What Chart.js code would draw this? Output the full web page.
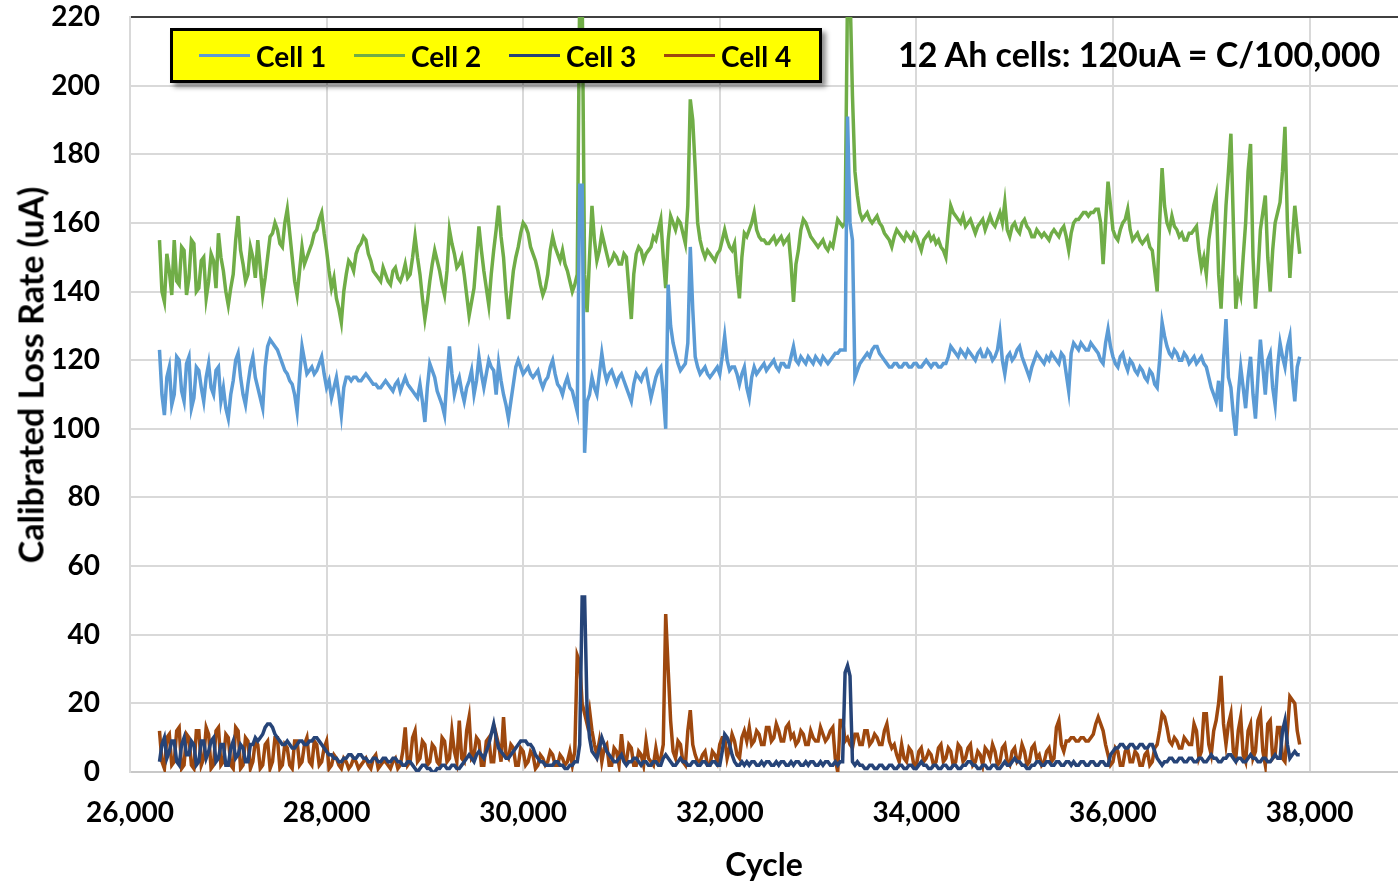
<!DOCTYPE html>
<html>
<head>
<meta charset="utf-8">
<title>Calibrated Loss Rate</title>
<script src="https://cdn.jsdelivr.net/npm/chart.js@4.4.1/dist/chart.umd.min.js"></script>
<style>
  body { margin: 0; background: #fff; }
  #wrap { position: relative; width: 1398px; height: 882px; }
  #legend {
    position: absolute; left: 170px; top: 28px; width: 652px; height: 55px;
    box-sizing: border-box; background: #ffff00; border: 3px solid #000;
    box-shadow: 4px 4px 5px rgba(0, 0, 0, 0.45);
    display: flex; align-items: center; padding-left: 26px;
    font: bold 28px Lato, sans-serif; color: #000;
  }
  #legend .item { display: flex; align-items: center; width: 157.7px; }
  #legend .swatch { display: inline-block; width: 51px; height: 3px; margin-right: 6px; }
  #note {
    position: absolute; left: 898px; top: 33px;
    font: bold 34px Lato, sans-serif; color: #000; white-space: nowrap;
  }
  #ytitle {
    position: absolute; left: 30px; top: 375px;
    transform: translate(-50%, -50%) rotate(-90deg);
    font: bold 34px Lato, sans-serif; color: #000; white-space: nowrap;
  }
</style>
</head>
<body>
<div id="wrap">
  <canvas id="lossChart" width="1398" height="882"></canvas>
  <div id="legend"></div>
  <div id="note">12 Ah cells: 120uA = C/100,000</div>
  <div id="ytitle">Calibrated Loss Rate (uA)</div>
</div>
<script>
// cycle number of each sample (one row = 500 cycles)
const cycles = [
  26300, 26325, 26350, 26375, 26400, 26425, 26450, 26475, 26500, 26525, 26550, 26575, 26600, 26625, 26650, 26675, 26700, 26725, 26750, 26775,
  26800, 26825, 26850, 26875, 26900, 26925, 26950, 26975, 27000, 27025, 27050, 27075, 27100, 27125, 27150, 27175, 27200, 27225, 27250, 27275,
  27300, 27325, 27350, 27375, 27400, 27425, 27450, 27475, 27500, 27525, 27550, 27575, 27600, 27625, 27650, 27675, 27700, 27725, 27750, 27775,
  27800, 27825, 27850, 27875, 27900, 27925, 27950, 27975, 28000, 28025, 28050, 28075, 28100, 28125, 28150, 28175, 28200, 28225, 28250, 28275,
  28300, 28325, 28350, 28375, 28400, 28425, 28450, 28475, 28500, 28525, 28550, 28575, 28600, 28625, 28650, 28675, 28700, 28725, 28750, 28775,
  28800, 28825, 28850, 28875, 28900, 28925, 28950, 28975, 29000, 29025, 29050, 29075, 29100, 29125, 29150, 29175, 29200, 29225, 29250, 29275,
  29300, 29325, 29350, 29375, 29400, 29425, 29450, 29475, 29500, 29525, 29550, 29575, 29600, 29625, 29650, 29675, 29700, 29725, 29750, 29775,
  29800, 29825, 29850, 29875, 29900, 29925, 29950, 29975, 30000, 30025, 30050, 30075, 30100, 30125, 30150, 30175, 30200, 30225, 30250, 30275,
  30300, 30325, 30350, 30375, 30400, 30425, 30450, 30475, 30500, 30525, 30550, 30575, 30600, 30625, 30650, 30675, 30700, 30725, 30750, 30775,
  30800, 30825, 30850, 30875, 30900, 30925, 30950, 30975, 31000, 31025, 31050, 31075, 31100, 31125, 31150, 31175, 31200, 31225, 31250, 31275,
  31300, 31325, 31350, 31375, 31400, 31425, 31450, 31475, 31500, 31525, 31550, 31575, 31600, 31625, 31650, 31675, 31700, 31725, 31750, 31775,
  31800, 31825, 31850, 31875, 31900, 31925, 31950, 31975, 32000, 32025, 32050, 32075, 32100, 32125, 32150, 32175, 32200, 32225, 32250, 32275,
  32300, 32325, 32350, 32375, 32400, 32425, 32450, 32475, 32500, 32525, 32550, 32575, 32600, 32625, 32650, 32675, 32700, 32725, 32750, 32775,
  32800, 32825, 32850, 32875, 32900, 32925, 32950, 32975, 33000, 33025, 33050, 33075, 33100, 33125, 33150, 33175, 33200, 33225, 33250, 33275,
  33300, 33325, 33350, 33375, 33400, 33425, 33450, 33475, 33500, 33525, 33550, 33575, 33600, 33625, 33650, 33675, 33700, 33725, 33750, 33775,
  33800, 33825, 33850, 33875, 33900, 33925, 33950, 33975, 34000, 34025, 34050, 34075, 34100, 34125, 34150, 34175, 34200, 34225, 34250, 34275,
  34300, 34325, 34350, 34375, 34400, 34425, 34450, 34475, 34500, 34525, 34550, 34575, 34600, 34625, 34650, 34675, 34700, 34725, 34750, 34775,
  34800, 34825, 34850, 34875, 34900, 34925, 34950, 34975, 35000, 35025, 35050, 35075, 35100, 35125, 35150, 35175, 35200, 35225, 35250, 35275,
  35300, 35325, 35350, 35375, 35400, 35425, 35450, 35475, 35500, 35525, 35550, 35575, 35600, 35625, 35650, 35675, 35700, 35725, 35750, 35775,
  35800, 35825, 35850, 35875, 35900, 35925, 35950, 35975, 36000, 36025, 36050, 36075, 36100, 36125, 36150, 36175, 36200, 36225, 36250, 36275,
  36300, 36325, 36350, 36375, 36400, 36425, 36450, 36475, 36500, 36525, 36550, 36575, 36600, 36625, 36650, 36675, 36700, 36725, 36750, 36775,
  36800, 36825, 36850, 36875, 36900, 36925, 36950, 36975, 37000, 37025, 37050, 37075, 37100, 37125, 37150, 37175, 37200, 37225, 37250, 37275,
  37300, 37325, 37350, 37375, 37400, 37425, 37450, 37475, 37500, 37525, 37550, 37575, 37600, 37625, 37650, 37675, 37700, 37725, 37750, 37775,
  37800, 37825, 37850, 37875, 37900
];

// loss rate (uA) per cell
const cell1 = [
  123, 110, 104, 115, 118, 107, 110, 121, 120, 111, 108, 119, 121, 106, 109, 118, 117, 112, 108, 115,
  119, 112, 110, 117, 118, 108, 112, 106, 103, 110, 114, 120, 122, 115, 110, 107, 113, 118, 121, 115,
  112, 109, 106, 118, 124, 126, 125, 124, 123, 121, 119, 117, 116, 114, 113, 110, 105, 115, 124, 120,
  116, 117, 118, 116, 117, 119, 121, 116, 112, 114, 109, 112, 115, 110, 104, 112, 115, 115, 114, 115,
  115, 114, 114, 115, 116, 115, 114, 113, 113, 112, 112, 113, 114, 113, 112, 111, 113, 114, 111, 113,
  115, 113, 112, 111, 110, 109, 113, 108, 102, 112, 119, 117, 115, 111, 109, 107, 104, 115, 124, 116,
  110, 113, 115, 111, 108, 112, 114, 117, 110, 114, 121, 116, 112, 116, 120, 118, 117, 110, 119, 114,
  110, 107, 103, 108, 113, 118, 120, 118, 116, 117, 118, 116, 115, 116, 117, 114, 112, 114, 115, 118,
  120, 116, 113, 112, 110, 113, 115, 112, 111, 108, 105, 171, 171, 93, 108, 110, 115, 112, 110, 116,
  122, 117, 114, 116, 117, 115, 113, 115, 116, 114, 112, 110, 108, 113, 116, 115, 114, 116, 117, 113,
  109, 112, 115, 117, 118, 110, 100, 142, 130, 125, 122, 119, 117, 118, 119, 125, 153, 135, 121, 118,
  116, 117, 118, 116, 115, 116, 117, 118, 116, 121, 127, 120, 117, 118, 118, 116, 113, 116, 118, 112,
  109, 115, 118, 116, 117, 118, 119, 117, 118, 119, 120, 118, 117, 119, 119, 118, 118, 121, 124, 120,
  119, 121, 120, 119, 121, 120, 119, 121, 120, 119, 121, 120, 119, 120, 121, 122, 122, 123, 123, 123,
  191, 160, 155, 115, 117, 119, 120, 121, 122, 121, 123, 124, 124, 122, 121, 120, 119, 118, 118, 119,
  119, 118, 118, 119, 119, 118, 118, 119, 119, 118, 118, 119, 120, 119, 118, 119, 119, 118, 118, 119,
  119, 121, 124, 123, 122, 121, 123, 122, 121, 123, 122, 121, 120, 122, 123, 121, 121, 123, 122, 120,
  121, 123, 128, 120, 116, 121, 122, 120, 121, 123, 124, 121, 119, 117, 115, 118, 120, 122, 121, 120,
  119, 121, 120, 122, 121, 120, 119, 122, 121, 116, 111, 122, 125, 124, 123, 125, 124, 123, 123, 125,
  124, 123, 122, 120, 119, 125, 129, 124, 121, 119, 118, 121, 122, 119, 117, 120, 119, 117, 116, 118,
  117, 115, 114, 117, 116, 113, 112, 120, 131, 127, 124, 122, 121, 123, 122, 120, 120, 122, 121, 119,
  120, 121, 119, 120, 121, 119, 118, 115, 112, 110, 108, 114, 105, 120, 132, 115, 112, 104, 98, 110,
  118, 112, 106, 115, 121, 110, 103, 115, 126, 118, 110, 120, 122, 112, 107, 118, 125, 121, 118, 124,
  127, 115, 108, 118, 121
];

const cell2 = [
  155, 140, 137, 151, 146, 139, 155, 143, 142, 153, 152, 139, 144, 155, 154, 140, 141, 149, 150, 138,
  143, 151, 149, 141, 157, 150, 146, 140, 136, 141, 145, 155, 162, 152, 148, 143, 145, 153, 150, 144,
  155, 147, 139, 144, 150, 156, 157, 160, 158, 154, 153, 160, 164, 157, 150, 143, 139, 146, 153, 148,
  150, 152, 154, 157, 158, 161, 163, 157, 152, 146, 141, 144, 138, 135, 131, 140, 145, 149, 148, 146,
  151, 153, 154, 156, 155, 151, 149, 146, 145, 144, 143, 147, 145, 143, 142, 146, 147, 144, 143, 145,
  148, 144, 145, 150, 156, 150, 145, 138, 132, 137, 143, 148, 152, 149, 146, 142, 139, 146, 158, 154,
  151, 147, 148, 150, 145, 139, 133, 137, 141, 150, 159, 152, 146, 141, 136, 145, 152, 158, 165, 156,
  150, 140, 132, 139, 146, 150, 153, 157, 160, 159, 157, 153, 151, 149, 146, 142, 139, 141, 145, 152,
  156, 153, 151, 149, 152, 148, 146, 143, 140, 142, 145, 228, 228, 145, 134, 150, 165, 155, 149, 152,
  157, 154, 151, 148, 149, 151, 150, 148, 148, 151, 150, 141, 132, 145, 151, 153, 152, 149, 151, 152,
  153, 156, 155, 158, 161, 150, 141, 155, 162, 160, 158, 161, 160, 157, 154, 165, 196, 190, 176, 160,
  155, 152, 150, 152, 151, 150, 149, 151, 152, 155, 158, 155, 153, 152, 154, 145, 138, 150, 157, 156,
  158, 160, 163, 158, 156, 155, 155, 154, 154, 155, 156, 154, 155, 156, 154, 155, 156, 148, 137, 148,
  152, 158, 161, 160, 158, 156, 155, 154, 153, 154, 155, 153, 152, 154, 153, 157, 161, 160, 159, 160,
  228, 228, 197, 175, 168, 163, 161, 162, 163, 161, 160, 161, 162, 160, 159, 157, 156, 155, 153, 156,
  158, 157, 156, 155, 157, 156, 155, 157, 156, 154, 152, 155, 156, 157, 155, 156, 154, 155, 153, 152,
  150, 158, 165, 163, 162, 161, 160, 162, 159, 160, 161, 159, 157, 159, 160, 161, 158, 160, 162, 160,
  159, 161, 163, 160, 166, 158, 156, 159, 160, 158, 157, 160, 161, 159, 158, 156, 156, 158, 157, 156,
  157, 156, 155, 157, 158, 157, 156, 158, 159, 156, 152, 157, 160, 161, 161, 162, 163, 163, 162, 163,
  163, 164, 164, 160, 148, 160, 172, 165, 158, 156, 155, 158, 160, 161, 164, 158, 155, 156, 157, 155,
  154, 155, 156, 153, 152, 146, 140, 160, 176, 165, 160, 158, 162, 159, 158, 156, 157, 155, 155, 157,
  157, 158, 159, 152, 147, 150, 145, 155, 160, 165, 168, 145, 135, 150, 165, 175, 186, 160, 135, 142,
  139, 150, 160, 175, 183, 150, 135, 145, 158, 163, 168, 150, 140, 152, 160, 163, 166, 175, 188, 160,
  144, 155, 165, 158, 151
];

const cell3 = [
  3, 8, 10, 4, 6, 9, 9, 3, 2, 8, 10, 5, 5, 9, 8, 2, 3, 9, 9, 4,
  6, 9, 10, 3, 4, 8, 8, 2, 2, 7, 9, 4, 5, 8, 7, 3, 3, 8, 8, 10,
  9, 10, 11, 13, 14, 14, 13, 11, 10, 9, 8, 8, 9, 8, 7, 7, 8, 9, 9, 8,
  8, 9, 9, 10, 10, 9, 8, 7, 6, 5, 5, 4, 4, 3, 3, 4, 4, 5, 5, 4,
  4, 5, 5, 4, 4, 3, 3, 4, 4, 3, 3, 4, 4, 3, 3, 4, 4, 3, 3, 2,
  2, 3, 3, 2, 1, 0, 1, 2, 2, 1, 1, 0, 0, 1, 1, 2, 2, 1, 1, 2,
  2, 1, 1, 2, 3, 4, 5, 4, 3, 5, 6, 5, 4, 6, 8, 11, 14, 10, 7, 6,
  5, 4, 4, 5, 6, 7, 8, 9, 9, 9, 8, 8, 7, 5, 4, 3, 3, 2, 2, 2,
  2, 3, 3, 2, 2, 1, 1, 2, 2, 3, 3, 8, 51, 51, 18, 10, 6, 5, 4, 7,
  10, 8, 6, 5, 4, 3, 3, 4, 5, 3, 2, 3, 3, 4, 4, 3, 2, 3, 3, 2,
  2, 3, 3, 2, 2, 4, 5, 4, 3, 2, 2, 3, 4, 3, 3, 2, 2, 3, 3, 2,
  2, 3, 3, 2, 2, 3, 3, 2, 2, 6, 11, 10, 8, 5, 3, 2, 2, 3, 2, 3,
  2, 3, 3, 2, 2, 3, 2, 3, 3, 2, 2, 3, 2, 3, 3, 2, 2, 3, 2, 3,
  3, 2, 2, 3, 2, 3, 3, 2, 2, 3, 2, 3, 3, 2, 2, 3, 2, 3, 3, 29,
  31, 28, 3, 2, 3, 2, 2, 1, 1, 2, 2, 1, 1, 2, 2, 1, 1, 2, 2, 1,
  1, 2, 2, 1, 1, 2, 2, 1, 1, 2, 3, 2, 2, 1, 1, 2, 2, 1, 1, 2,
  2, 1, 1, 2, 2, 1, 1, 2, 2, 3, 3, 2, 2, 1, 1, 2, 2, 1, 1, 2,
  2, 1, 1, 2, 3, 2, 2, 3, 4, 3, 3, 2, 2, 1, 1, 2, 2, 3, 3, 2,
  2, 3, 3, 2, 2, 3, 3, 2, 2, 3, 3, 2, 3, 2, 2, 3, 3, 2, 2, 3,
  3, 2, 2, 3, 3, 2, 2, 5, 6, 7, 7, 8, 8, 7, 7, 8, 8, 7, 7, 8,
  8, 7, 7, 8, 8, 6, 4, 3, 2, 3, 3, 4, 4, 3, 3, 4, 4, 3, 3, 4,
  4, 3, 3, 4, 4, 3, 3, 4, 5, 4, 4, 3, 3, 4, 4, 5, 5, 4, 3, 4,
  4, 3, 3, 4, 5, 4, 4, 3, 3, 4, 4, 3, 3, 4, 5, 4, 4, 12, 15, 8,
  4, 5, 6, 5, 5
];

const cell4 = [
  12, 3, 1, 10, 11, 2, 3, 12, 13, 1, 2, 11, 10, 2, 1, 12, 12, 2, 4, 13,
  11, 1, 2, 12, 13, 2, 3, 11, 10, 2, 1, 13, 12, 1, 2, 10, 9, 1, 3, 9,
  8, 1, 2, 8, 9, 1, 3, 10, 10, 1, 2, 8, 7, 2, 1, 9, 9, 2, 3, 8,
  10, 3, 2, 9, 8, 2, 3, 7, 9, 1, 2, 5, 4, 2, 1, 4, 3, 1, 2, 4,
  3, 1, 2, 3, 4, 2, 1, 4, 5, 1, 2, 3, 3, 2, 1, 3, 4, 1, 2, 6,
  13, 2, 3, 10, 12, 3, 4, 9, 8, 2, 3, 8, 7, 3, 2, 10, 9, 3, 4, 12,
  6, 3, 15, 4, 3, 12, 16, 4, 5, 10, 9, 2, 2, 9, 10, 3, 3, 11, 8, 3,
  16, 5, 4, 8, 7, 2, 2, 7, 6, 2, 3, 6, 5, 1, 2, 5, 4, 2, 3, 6,
  5, 2, 2, 5, 4, 2, 3, 6, 2, 6, 34, 32, 20, 17, 14, 18, 12, 8, 5, 9,
  3, 7, 8, 2, 2, 7, 6, 2, 11, 4, 3, 8, 7, 2, 2, 6, 5, 2, 9, 4,
  3, 2, 7, 3, 4, 8, 46, 30, 15, 6, 4, 9, 8, 3, 2, 12, 18, 8, 5, 3,
  3, 5, 6, 2, 2, 6, 5, 3, 8, 10, 10, 4, 7, 11, 9, 5, 4, 10, 12, 9,
  13, 8, 9, 12, 11, 8, 8, 13, 13, 9, 10, 14, 12, 9, 9, 13, 14, 10, 11, 8,
  9, 12, 11, 8, 8, 12, 10, 9, 9, 13, 11, 9, 10, 12, 13, 4, 0, 15, 15, 9,
  10, 8, 7, 11, 11, 8, 8, 12, 12, 8, 9, 11, 10, 8, 8, 12, 14, 9, 7, 8,
  5, 3, 8, 4, 3, 7, 6, 2, 2, 6, 7, 3, 4, 6, 5, 2, 3, 7, 8, 3,
  4, 7, 6, 2, 3, 8, 7, 3, 4, 7, 8, 2, 3, 6, 5, 2, 7, 6, 4, 8,
  6, 2, 3, 7, 8, 3, 2, 6, 7, 3, 4, 8, 6, 2, 3, 7, 8, 4, 5, 2,
  3, 6, 7, 3, 4, 13, 15, 8, 6, 9, 9, 10, 10, 9, 9, 10, 10, 9, 9, 10,
  11, 14, 16, 14, 12, 8, 5, 2, 3, 7, 6, 2, 2, 6, 7, 3, 3, 6, 5, 2,
  2, 5, 6, 2, 3, 7, 8, 12, 17, 16, 13, 9, 8, 10, 9, 7, 7, 10, 9, 8,
  8, 14, 12, 4, 6, 17, 17, 8, 5, 12, 15, 20, 28, 14, 8, 14, 17, 6, 4, 12,
  16, 5, 3, 12, 14, 4, 6, 15, 17, 6, 2, 14, 15, 4, 5, 13, 13, 4, 3, 12,
  22, 21, 20, 12, 8
];

const seriesNames = ["Cell 1", "Cell 2", "Cell 3", "Cell 4"];
const seriesColors = ["#5b9bd5", "#70ad47", "#264478", "#9e480e"];
const xTicks = [26000, 28000, 30000, 32000, 34000, 36000, 38000];
const yTicks = [0, 20, 40, 60, 80, 100, 120, 140, 160, 180, 200, 220];

Chart.defaults.font.family = "Lato, sans-serif";
Chart.defaults.color = "#000";

// legend is drawn as html so it can have the yellow box with shadow
const htmlLegend = {
  id: "htmlLegend",
  afterUpdate(chart) {
    const box = document.getElementById("legend");
    box.innerHTML = "";
    chart.options.plugins.legend.labels.generateLabels(chart).forEach(item => {
      const el = document.createElement("div");
      el.className = "item";
      const sw = document.createElement("span");
      sw.className = "swatch";
      sw.style.background = item.strokeStyle;
      const tx = document.createElement("span");
      tx.textContent = item.text;
      el.append(sw, tx);
      box.append(el);
    });
  }
};

const allSeries = [cell1, cell2, cell3, cell4];
const datasets = allSeries.map((vals, k) => ({
  label: seriesNames[k],
  data: cycles.map((c, i) => ({ x: c, y: vals[i] })),
  borderColor: seriesColors[k],
  backgroundColor: seriesColors[k],
  borderWidth: 3.5,
  pointRadius: 0,
  tension: 0,
  fill: false
}));

const tickFont = { size: 28, weight: "bold" };

new Chart(document.getElementById("lossChart").getContext("2d"), {
  type: "line",
  data: { datasets: datasets },
  plugins: [htmlLegend],
  options: {
    responsive: false,
    animation: false,
    devicePixelRatio: 1,
    layout: { padding: 0 },
    plugins: {
      legend: { display: false },
      tooltip: { enabled: false }
    },
    scales: {
      x: {
        type: "linear",
        min: 26000,
        max: 38900,
        afterBuildTicks: scale => { scale.ticks = xTicks.map(v => ({ value: v })); },
        afterFit: scale => { scale.height = 110; },
        ticks: {
          font: tickFont,
          padding: 24,
          maxRotation: 0,
          autoSkip: false,
          callback: v => v.toLocaleString("en-US")
        },
        grid: { color: "#d9d9d9", lineWidth: 2, drawTicks: false },
        border: { color: "#c8c8c8", width: 2 },
        title: {
          display: true,
          text: "Cycle",
          font: { size: 32, weight: "bold", lineHeight: 1 },
          padding: 0
        }
      },
      y: {
        min: 0,
        max: 220,
        afterBuildTicks: scale => { scale.ticks = yTicks.map(v => ({ value: v })); },
        afterFit: scale => {
          scale.width = 130;
          // plot area starts 17px below the top edge
          scale.paddingTop = 17;
          scale.paddingBottom = 0;
        },
        ticks: { font: tickFont, padding: 30 },
        grid: {
          color: c => (c.tick && c.tick.value === 220 ? "#404040" : "#d9d9d9"),
          lineWidth: 2,
          drawTicks: false
        },
        border: { color: "#d9d9d9", width: 2 },
        // axis title is the #ytitle div (it sits a bit above the axis centre)
        title: { display: false }
      }
    }
  }
});
</script>
</body>
</html>
